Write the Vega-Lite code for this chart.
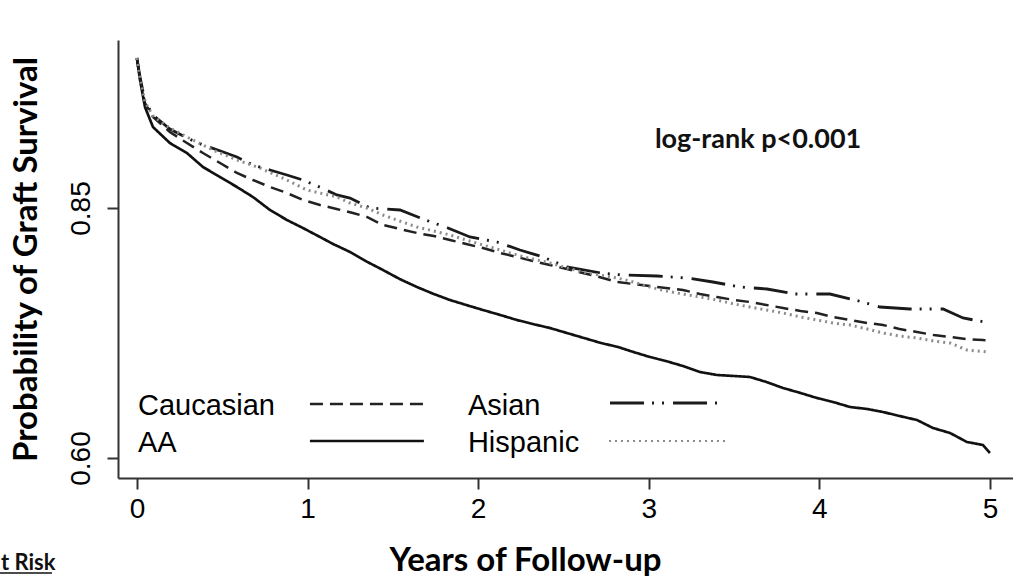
{
  "$schema": "https://vega.github.io/schema/vega-lite/v6.json",
  "width": 895,
  "height": 438,
  "autosize": {"type": "none"},
  "padding": {"left": 118, "top": 40, "right": 0, "bottom": 104},
  "background": "white",
  "config": {
    "view": {"stroke": null},
    "axis": {
      "grid": false,
      "domainColor": "#333",
      "domainWidth": 2,
      "tickColor": "#333",
      "tickWidth": 2,
      "tickSize": 11,
      "labelFont": "Liberation Sans",
      "labelFontSize": 28,
      "labelColor": "#000",
      "titleFont": "Lato",
      "titleFontWeight": "bold",
      "titleFontSize": 33,
      "titleColor": "#000"
    }
  },
  "datasets": {
    "km": [
      {"group":"Caucasian","t":0,"s":1.0},{"group":"Caucasian","t":0.01,"s":0.988},{"group":"Caucasian","t":0.018,"s":0.980},{"group":"Caucasian","t":0.047,"s":0.955},{"group":"Caucasian","t":0.094,"s":0.941},{"group":"Caucasian","t":0.193,"s":0.926},{"group":"Caucasian","t":0.293,"s":0.915},{"group":"Caucasian","t":0.387,"s":0.905},{"group":"Caucasian","t":0.487,"s":0.895},{"group":"Caucasian","t":0.586,"s":0.885},{"group":"Caucasian","t":0.68,"s":0.878},{"group":"Caucasian","t":0.78,"s":0.871},{"group":"Caucasian","t":0.879,"s":0.865},{"group":"Caucasian","t":0.973,"s":0.858},{"group":"Caucasian","t":1.073,"s":0.853},{"group":"Caucasian","t":1.17,"s":0.849},{"group":"Caucasian","t":1.266,"s":0.845},{"group":"Caucasian","t":1.348,"s":0.841},{"group":"Caucasian","t":1.442,"s":0.833},{"group":"Caucasian","t":1.541,"s":0.829},{"group":"Caucasian","t":1.641,"s":0.825},{"group":"Caucasian","t":1.74,"s":0.822},{"group":"Caucasian","t":1.835,"s":0.818},{"group":"Caucasian","t":1.93,"s":0.814},{"group":"Caucasian","t":2.028,"s":0.810},{"group":"Caucasian","t":2.13,"s":0.805},{"group":"Caucasian","t":2.227,"s":0.801},{"group":"Caucasian","t":2.32,"s":0.797},{"group":"Caucasian","t":2.421,"s":0.793},{"group":"Caucasian","t":2.52,"s":0.789},{"group":"Caucasian","t":2.614,"s":0.785},{"group":"Caucasian","t":2.71,"s":0.781},{"group":"Caucasian","t":2.814,"s":0.776},{"group":"Caucasian","t":2.91,"s":0.774},{"group":"Caucasian","t":3.007,"s":0.772},{"group":"Caucasian","t":3.1,"s":0.770},{"group":"Caucasian","t":3.2,"s":0.768},{"group":"Caucasian","t":3.3,"s":0.764},{"group":"Caucasian","t":3.4,"s":0.761},{"group":"Caucasian","t":3.5,"s":0.758},{"group":"Caucasian","t":3.593,"s":0.756},{"group":"Caucasian","t":3.69,"s":0.753},{"group":"Caucasian","t":3.787,"s":0.750},{"group":"Caucasian","t":3.89,"s":0.747},{"group":"Caucasian","t":3.986,"s":0.745},{"group":"Caucasian","t":4.08,"s":0.741},{"group":"Caucasian","t":4.18,"s":0.738},{"group":"Caucasian","t":4.28,"s":0.735},{"group":"Caucasian","t":4.373,"s":0.733},{"group":"Caucasian","t":4.47,"s":0.729},{"group":"Caucasian","t":4.572,"s":0.726},{"group":"Caucasian","t":4.67,"s":0.723},{"group":"Caucasian","t":4.766,"s":0.721},{"group":"Caucasian","t":4.86,"s":0.719},{"group":"Caucasian","t":4.959,"s":0.718},{"group":"Caucasian","t":5.0,"s":0.717},
      {"group":"AA","t":0,"s":1.0},{"group":"AA","t":0.008,"s":0.99},{"group":"AA","t":0.018,"s":0.978},{"group":"AA","t":0.047,"s":0.951},{"group":"AA","t":0.094,"s":0.931},{"group":"AA","t":0.193,"s":0.915},{"group":"AA","t":0.293,"s":0.905},{"group":"AA","t":0.387,"s":0.891},{"group":"AA","t":0.487,"s":0.881},{"group":"AA","t":0.586,"s":0.871},{"group":"AA","t":0.68,"s":0.861},{"group":"AA","t":0.78,"s":0.848},{"group":"AA","t":0.879,"s":0.838},{"group":"AA","t":0.973,"s":0.830},{"group":"AA","t":1.073,"s":0.821},{"group":"AA","t":1.15,"s":0.814},{"group":"AA","t":1.249,"s":0.806},{"group":"AA","t":1.34,"s":0.797},{"group":"AA","t":1.442,"s":0.788},{"group":"AA","t":1.54,"s":0.779},{"group":"AA","t":1.641,"s":0.771},{"group":"AA","t":1.74,"s":0.764},{"group":"AA","t":1.835,"s":0.758},{"group":"AA","t":1.93,"s":0.753},{"group":"AA","t":2.028,"s":0.748},{"group":"AA","t":2.13,"s":0.743},{"group":"AA","t":2.227,"s":0.738},{"group":"AA","t":2.32,"s":0.734},{"group":"AA","t":2.421,"s":0.730},{"group":"AA","t":2.52,"s":0.725},{"group":"AA","t":2.62,"s":0.720},{"group":"AA","t":2.72,"s":0.715},{"group":"AA","t":2.82,"s":0.711},{"group":"AA","t":2.91,"s":0.706},{"group":"AA","t":3.007,"s":0.701},{"group":"AA","t":3.1,"s":0.697},{"group":"AA","t":3.2,"s":0.692},{"group":"AA","t":3.3,"s":0.686},{"group":"AA","t":3.4,"s":0.683},{"group":"AA","t":3.5,"s":0.682},{"group":"AA","t":3.593,"s":0.681},{"group":"AA","t":3.69,"s":0.676},{"group":"AA","t":3.787,"s":0.670},{"group":"AA","t":3.89,"s":0.665},{"group":"AA","t":3.986,"s":0.660},{"group":"AA","t":4.08,"s":0.656},{"group":"AA","t":4.18,"s":0.651},{"group":"AA","t":4.28,"s":0.649},{"group":"AA","t":4.373,"s":0.646},{"group":"AA","t":4.47,"s":0.642},{"group":"AA","t":4.572,"s":0.638},{"group":"AA","t":4.666,"s":0.630},{"group":"AA","t":4.766,"s":0.625},{"group":"AA","t":4.865,"s":0.616},{"group":"AA","t":4.959,"s":0.613},{"group":"AA","t":5.0,"s":0.605},
      {"group":"Asian","t":0,"s":1.0},{"group":"Asian","t":0.01,"s":0.989},{"group":"Asian","t":0.018,"s":0.981},{"group":"Asian","t":0.047,"s":0.957},{"group":"Asian","t":0.094,"s":0.943},{"group":"Asian","t":0.193,"s":0.929},{"group":"Asian","t":0.293,"s":0.920},{"group":"Asian","t":0.387,"s":0.913},{"group":"Asian","t":0.49,"s":0.907},{"group":"Asian","t":0.586,"s":0.901},{"group":"Asian","t":0.68,"s":0.893},{"group":"Asian","t":0.78,"s":0.888},{"group":"Asian","t":0.879,"s":0.883},{"group":"Asian","t":0.973,"s":0.878},{"group":"Asian","t":1.07,"s":0.871},{"group":"Asian","t":1.172,"s":0.863},{"group":"Asian","t":1.249,"s":0.860},{"group":"Asian","t":1.366,"s":0.850},{"group":"Asian","t":1.542,"s":0.848},{"group":"Asian","t":1.676,"s":0.839},{"group":"Asian","t":1.823,"s":0.830},{"group":"Asian","t":1.952,"s":0.821},{"group":"Asian","t":2.11,"s":0.816},{"group":"Asian","t":2.245,"s":0.808},{"group":"Asian","t":2.38,"s":0.801},{"group":"Asian","t":2.52,"s":0.791},{"group":"Asian","t":2.714,"s":0.785},{"group":"Asian","t":2.849,"s":0.783},{"group":"Asian","t":3.048,"s":0.782},{"group":"Asian","t":3.224,"s":0.780},{"group":"Asian","t":3.376,"s":0.776},{"group":"Asian","t":3.535,"s":0.771},{"group":"Asian","t":3.693,"s":0.769},{"group":"Asian","t":3.857,"s":0.764},{"group":"Asian","t":4.062,"s":0.764},{"group":"Asian","t":4.209,"s":0.758},{"group":"Asian","t":4.355,"s":0.751},{"group":"Asian","t":4.531,"s":0.749},{"group":"Asian","t":4.725,"s":0.749},{"group":"Asian","t":4.842,"s":0.740},{"group":"Asian","t":5.0,"s":0.735},
      {"group":"Hispanic","t":0,"s":1.0},{"group":"Hispanic","t":0.01,"s":0.988},{"group":"Hispanic","t":0.018,"s":0.980},{"group":"Hispanic","t":0.047,"s":0.956},{"group":"Hispanic","t":0.094,"s":0.942},{"group":"Hispanic","t":0.193,"s":0.930},{"group":"Hispanic","t":0.293,"s":0.921},{"group":"Hispanic","t":0.445,"s":0.908},{"group":"Hispanic","t":0.586,"s":0.898},{"group":"Hispanic","t":0.721,"s":0.890},{"group":"Hispanic","t":0.879,"s":0.878},{"group":"Hispanic","t":0.996,"s":0.868},{"group":"Hispanic","t":1.172,"s":0.861},{"group":"Hispanic","t":1.249,"s":0.855},{"group":"Hispanic","t":1.348,"s":0.850},{"group":"Hispanic","t":1.442,"s":0.843},{"group":"Hispanic","t":1.54,"s":0.837},{"group":"Hispanic","t":1.641,"s":0.831},{"group":"Hispanic","t":1.74,"s":0.827},{"group":"Hispanic","t":1.835,"s":0.823},{"group":"Hispanic","t":1.93,"s":0.818},{"group":"Hispanic","t":2.028,"s":0.813},{"group":"Hispanic","t":2.13,"s":0.808},{"group":"Hispanic","t":2.227,"s":0.803},{"group":"Hispanic","t":2.32,"s":0.799},{"group":"Hispanic","t":2.421,"s":0.795},{"group":"Hispanic","t":2.52,"s":0.790},{"group":"Hispanic","t":2.614,"s":0.786},{"group":"Hispanic","t":2.71,"s":0.783},{"group":"Hispanic","t":2.814,"s":0.780},{"group":"Hispanic","t":2.91,"s":0.776},{"group":"Hispanic","t":3.007,"s":0.771},{"group":"Hispanic","t":3.1,"s":0.767},{"group":"Hispanic","t":3.2,"s":0.764},{"group":"Hispanic","t":3.3,"s":0.761},{"group":"Hispanic","t":3.4,"s":0.758},{"group":"Hispanic","t":3.5,"s":0.754},{"group":"Hispanic","t":3.593,"s":0.751},{"group":"Hispanic","t":3.69,"s":0.748},{"group":"Hispanic","t":3.787,"s":0.745},{"group":"Hispanic","t":3.89,"s":0.741},{"group":"Hispanic","t":3.986,"s":0.738},{"group":"Hispanic","t":4.08,"s":0.735},{"group":"Hispanic","t":4.18,"s":0.733},{"group":"Hispanic","t":4.28,"s":0.729},{"group":"Hispanic","t":4.373,"s":0.725},{"group":"Hispanic","t":4.47,"s":0.722},{"group":"Hispanic","t":4.572,"s":0.720},{"group":"Hispanic","t":4.67,"s":0.717},{"group":"Hispanic","t":4.766,"s":0.715},{"group":"Hispanic","t":4.865,"s":0.708},{"group":"Hispanic","t":4.99,"s":0.706}
    ],
    "one": [{}]
  },
  "layer": [
    {
      "data": {"name": "km"},
      "mark": {"type": "line", "interpolate": "linear", "strokeCap": "butt"},
      "encoding": {
        "x": {
          "field": "t", "type": "quantitative",
          "scale": {"domain": [-0.111, 5.135], "nice": false, "zero": false},
          "axis": {"values": [0, 1, 2, 3, 4, 5], "format": "d", "labelPadding": 6, "title": "Years of Follow-up", "titlePadding": 21, "titleX": 407}
        },
        "y": {
          "field": "s", "type": "quantitative",
          "scale": {"domain": [0.58, 1.018], "nice": false, "zero": false},
          "axis": {"values": [0.6, 0.85], "format": ".2f", "labelAngle": -90, "labelAlign": "center", "labelBaseline": "bottom", "labelPadding": 12, "title": "Probability of Graft Survival", "titlePadding": 24}
        },
        "detail": {"field": "group"},
        "strokeDash": {"field": "group", "type": "nominal", "scale": {"domain": ["Caucasian", "AA", "Asian", "Hispanic"], "range": [[13, 7], [1, 0], [34, 8, 2, 8, 2, 9], [2, 4]]}, "legend": null},
        "color": {"field": "group", "type": "nominal", "scale": {"domain": ["Caucasian", "AA", "Asian", "Hispanic"], "range": ["#222222", "#111111", "#1a1a1a", "#8c8c8c"]}, "legend": null},
        "strokeWidth": {"field": "group", "type": "nominal", "scale": {"domain": ["Caucasian", "AA", "Asian", "Hispanic"], "range": [2.5, 3, 2.8, 2.2]}, "legend": null}
      }
    },
    {
      "data": {"name": "one"},
      "mark": {"type": "text", "text": "log-rank p<0.001", "font": "Lato", "fontWeight": "bold", "fontSize": 27, "align": "left", "baseline": "alphabetic", "color": "#111"},
      "encoding": {"x": {"datum": 3.036}, "y": {"datum": 0.91}}
    },
    {
      "data": {"name": "one"},
      "mark": {"type": "text", "text": "Caucasian", "font": "Liberation Sans", "fontSize": 29, "align": "left", "baseline": "middle", "color": "#000"},
      "encoding": {"x": {"datum": 0.006}, "y": {"datum": 0.652}}
    },
    {
      "data": {"name": "one"},
      "mark": {"type": "text", "text": "AA", "font": "Liberation Sans", "fontSize": 29, "align": "left", "baseline": "middle", "color": "#000"},
      "encoding": {"x": {"datum": 0.006}, "y": {"datum": 0.615}}
    },
    {
      "data": {"name": "one"},
      "mark": {"type": "text", "text": "Asian", "font": "Liberation Sans", "fontSize": 29, "align": "left", "baseline": "middle", "color": "#000"},
      "encoding": {"x": {"datum": 1.94}, "y": {"datum": 0.652}}
    },
    {
      "data": {"name": "one"},
      "mark": {"type": "text", "text": "Hispanic", "font": "Liberation Sans", "fontSize": 29, "align": "left", "baseline": "middle", "color": "#000"},
      "encoding": {"x": {"datum": 1.94}, "y": {"datum": 0.615}}
    },
    {
      "data": {"name": "one"},
      "mark": {"type": "rule", "strokeDash": [13, 7], "strokeWidth": 2.5, "color": "#222"},
      "encoding": {"x": {"datum": 1.014}, "x2": {"datum": 1.682}, "y": {"datum": 0.654}}
    },
    {
      "data": {"name": "one"},
      "mark": {"type": "rule", "strokeWidth": 2.5, "color": "#111"},
      "encoding": {"x": {"datum": 1.014}, "x2": {"datum": 1.682}, "y": {"datum": 0.617}}
    },
    {
      "data": {"name": "one"},
      "mark": {"type": "rule", "strokeDash": [34, 8, 2, 8, 2, 9], "strokeWidth": 2.8, "color": "#1a1a1a"},
      "encoding": {"x": {"datum": 2.773}, "x2": {"datum": 3.423}, "y": {"datum": 0.655}}
    },
    {
      "data": {"name": "one"},
      "mark": {"type": "rule", "strokeDash": [2, 4], "strokeWidth": 2.2, "color": "#8c8c8c"},
      "encoding": {"x": {"datum": 2.767}, "x2": {"datum": 3.458}, "y": {"datum": 0.617}}
    },
    {
      "data": {"name": "one"},
      "mark": {"type": "text", "text": "t Risk", "font": "Lato", "fontWeight": "bold", "fontSize": 22, "align": "left", "baseline": "alphabetic", "color": "#111"},
      "encoding": {"x": {"datum": -0.797}, "y": {"datum": 0.488}}
    },
    {
      "data": {"name": "one"},
      "mark": {"type": "rule", "strokeWidth": 1.5, "color": "#111"},
      "encoding": {"x": {"datum": -0.803}, "x2": {"datum": -0.498}, "y": {"datum": 0.485}}
    }
  ]
}
